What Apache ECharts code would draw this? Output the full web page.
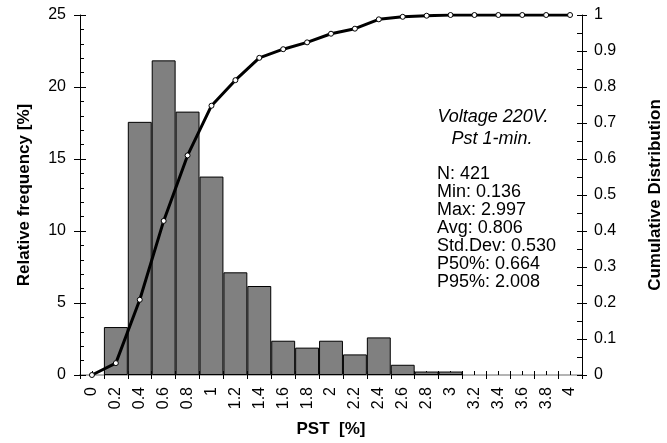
<!DOCTYPE html>
<html>
<head>
<meta charset="utf-8">
<script src="https://cdn.jsdelivr.net/npm/echarts@6/dist/echarts.min.js"></script>
<style>
html,body{margin:0;padding:0;background:#fff;}
#chart{width:667px;height:443px;}
</style>
</head>
<body>
<div id="chart"></div>
<script>
var categories = ['0','0.2','0.4','0.6','0.8','1','1.2','1.4','1.6','1.8','2','2.2','2.4','2.6','2.8','3','3.2','3.4','3.6','3.8','4'];
var frequency = [null,3.33,17.58,21.85,18.29,13.78,7.13,6.18,2.38,1.90,2.38,1.43,2.61,0.71,0.24,0.24,null,null,null,null,null];
var cumulative = [0,0.033,0.209,0.428,0.610,0.748,0.819,0.881,0.905,0.924,0.948,0.962,0.988,0.995,0.998,1,1,1,1,1,1];
var titleLines = ['Voltage 220V.','Pst 1-min.'];
var statLines = ['N: 421','Min: 0.136','Max: 2.997','Avg: 0.806','Std.Dev: 0.530','P50%: 0.664','P95%: 2.008'];

var FONT = 'Liberation Sans, Arial, Helvetica, sans-serif';
var chart = echarts.init(document.getElementById('chart'));
function hiddenX(extra){
  return Object.assign({type:'category',data:categories,position:'bottom',
    axisLine:{show:false},axisLabel:{show:false},splitLine:{show:false}},extra);
}
var option = {
  animation:false,
  backgroundColor:'#fff',
  textStyle:{fontFamily:FONT},
  grid:{left:80,right:85,top:15,bottom:68,containLabel:false,outerBoundsMode:'none'},
  xAxis:[
    {type:'category',data:categories,position:'bottom',
     axisLine:{lineStyle:{color:'#000',width:1}},
     axisTick:{show:true,inside:false,length:4,lineStyle:{color:'#000'}},
     axisLabel:{rotate:90,margin:12,color:'#000',fontSize:16,fontFamily:FONT},
     name:'PST  [%]',nameLocation:'middle',nameGap:46,
     nameTextStyle:{fontWeight:'bold',fontSize:17,color:'#000',fontFamily:FONT},
     splitLine:{show:false}},
    hiddenX({axisTick:{show:true,inside:true,length:4,lineStyle:{color:'#000'}}}),
    hiddenX({axisTick:{show:true,inside:true,length:4,alignWithLabel:true,lineStyle:{color:'#000'}}}),
    {type:'category',data:categories,position:'top',
     axisLine:{show:true,lineStyle:{color:'#b4b4b4',width:2}},
     axisTick:{show:false},axisLabel:{show:false},splitLine:{show:false}}
  ],
  yAxis:[
    {type:'value',min:0,max:25,interval:5,position:'left',
     axisLine:{show:true,lineStyle:{color:'#000'}},
     axisTick:{show:true,inside:false,length:6,lineStyle:{color:'#000'}},
     axisLabel:{margin:14,color:'#000',fontSize:16,fontFamily:FONT},
     splitLine:{show:false},
     name:'Relative frequency [%]',nameLocation:'middle',nameGap:47,
     nameTextStyle:{fontWeight:'bold',fontSize:17,color:'#000',fontFamily:FONT}},
    {type:'value',min:0,max:25,interval:5,position:'left',
     axisLine:{show:false},axisLabel:{show:false},splitLine:{show:false},
     axisTick:{show:true,inside:true,length:6,lineStyle:{color:'#000'}},
     minorTick:{show:true,splitNumber:5,length:4,lineStyle:{color:'#000'}}},
    {type:'value',min:0,max:1,interval:0.1,position:'right',
     axisLine:{show:true,lineStyle:{color:'#000'}},
     axisTick:{show:true,inside:false,length:5,lineStyle:{color:'#000'}},
     axisLabel:{margin:12,color:'#000',fontSize:16,fontFamily:FONT},
     splitLine:{show:false},
     name:'Cumulative Distribution',nameLocation:'middle',nameGap:65,
     nameTextStyle:{fontWeight:'bold',fontSize:17,color:'#000',fontFamily:FONT}},
    {type:'value',min:0,max:1,interval:0.1,position:'right',
     axisLine:{show:false},axisLabel:{show:false},splitLine:{show:false},
     axisTick:{show:true,inside:true,length:5,lineStyle:{color:'#000'}},
     minorTick:{show:true,splitNumber:2,length:5,lineStyle:{color:'#000'}}}
  ],
  series:[
    {type:'bar',xAxisIndex:0,yAxisIndex:0,data:frequency,barWidth:'100%',
     itemStyle:{color:'#808080',borderColor:'#000',borderWidth:1},z:2},
    {type:'line',xAxisIndex:0,yAxisIndex:2,data:cumulative,
     lineStyle:{color:'#000',width:3},symbol:'circle',symbolSize:5,showSymbol:true,
     itemStyle:{color:'#fff',borderColor:'#000',borderWidth:1},z:5}
  ],
  graphic:[
    {type:'text',z:10,style:{x:493,y:117,text:titleLines[0],textAlign:'center',textVerticalAlign:'middle',
      font:'italic 18px '+FONT,fill:'#000'}},
    {type:'text',z:10,style:{x:492,y:139,text:titleLines[1],textAlign:'center',textVerticalAlign:'middle',
      font:'italic 18px '+FONT,fill:'#000'}},
    {type:'text',z:10,style:{x:437,y:165,text:statLines.join('\n'),textAlign:'left',textVerticalAlign:'top',
      font:'18px '+FONT,lineHeight:18,fill:'#000'}}
  ]
};
chart.setOption(option);
</script>
</body>
</html>
